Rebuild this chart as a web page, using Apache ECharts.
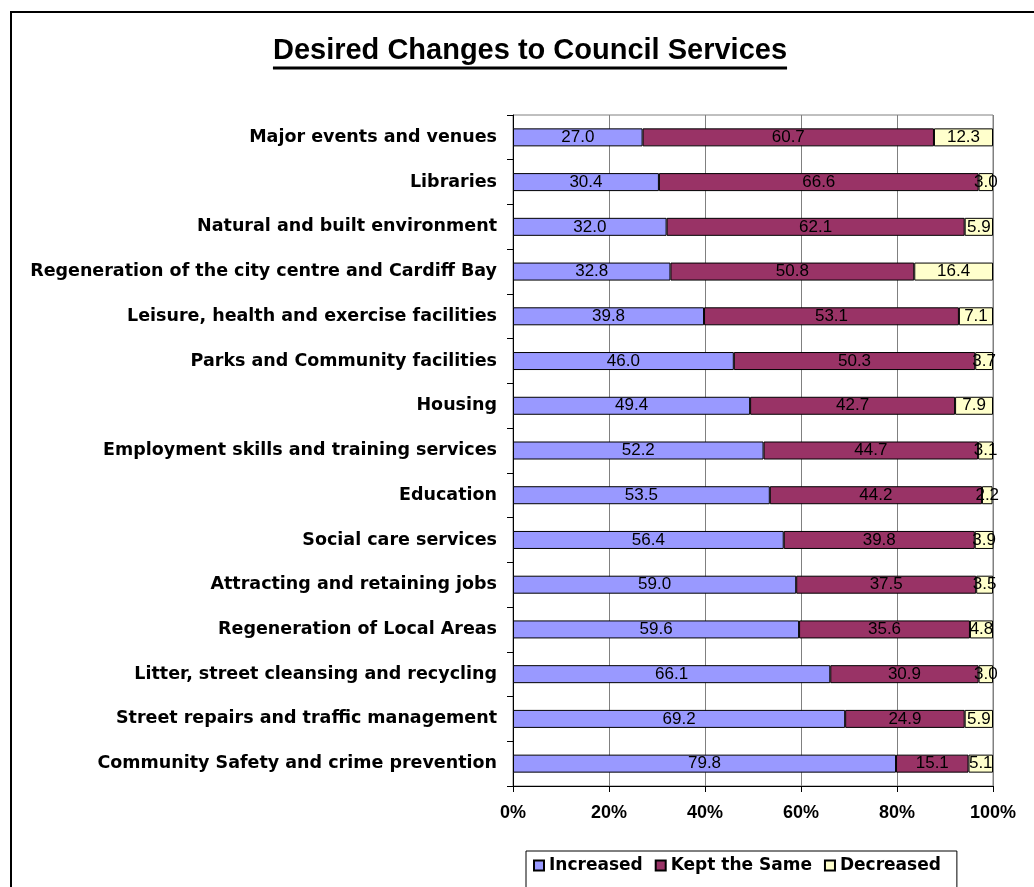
<!DOCTYPE html>
<html>
<head>
<meta charset="utf-8">
<script src="https://cdn.jsdelivr.net/npm/echarts@6/dist/echarts.min.js"></script>
<style>
  html, body { margin: 0; padding: 0; background: #fff; }
  #chart { width: 1034px; height: 887px; }
</style>
</head>
<body>
<div id="chart"></div>
<script>
// Services, listed top to bottom
const categories = [
  'Major events and venues',
  'Libraries',
  'Natural and built environment',
  'Regeneration of the city centre and Cardiff Bay',
  'Leisure, health and exercise facilities',
  'Parks and Community facilities',
  'Housing',
  'Employment skills and training services',
  'Education',
  'Social care services',
  'Attracting and retaining jobs',
  'Regeneration of Local Areas',
  'Litter, street cleansing and recycling',
  'Street repairs and traffic management',
  'Community Safety and crime prevention'
];

// Percentage of respondents per answer
const increased = [27.0, 30.4, 32.0, 32.8, 39.8, 46.0, 49.4, 52.2, 53.5, 56.4, 59.0, 59.6, 66.1, 69.2, 79.8];
const keptSame  = [60.7, 66.6, 62.1, 50.8, 53.1, 50.3, 42.7, 44.7, 44.2, 39.8, 37.5, 35.6, 30.9, 24.9, 15.1];
const decreased = [12.3, 3.0, 5.9, 16.4, 7.1, 3.7, 7.9, 3.1, 2.2, 3.9, 3.5, 4.8, 3.0, 5.9, 5.1];

const seriesNames = ['Increased', 'Kept the Same', 'Decreased'];
const seriesColors = ['#9999FF', '#993366', '#FFFFCC'];
const xTicks = [0, 20, 40, 60, 80, 100];

const SANS = "'Liberation Sans', Arial, sans-serif";
const WIDE = "'DejaVu Sans', Verdana, sans-serif";
const titleText = 'Desired Changes to Council Services';
const titleFont = 'bold 29px ' + SANS;

// width of the title, used for the underline
const measure = document.createElement('canvas').getContext('2d');
measure.font = titleFont;
const titleWidth = measure.measureText(titleText).width;
const titleX = 530;

const chart = echarts.init(document.getElementById('chart'), null, { renderer: 'canvas' });

function barSeries(name, values, color) {
  return {
    name: name,
    type: 'bar',
    stack: 'total',
    barWidth: 18,
    data: values,
    itemStyle: { color: color, borderColor: '#000', borderWidth: 1 },
    label: {
      show: true,
      position: 'inside',
      color: '#000',
      fontFamily: SANS,
      fontSize: 17,
      formatter: p => p.value.toFixed(1)
    },
    emphasis: { disabled: true }
  };
}

chart.setOption({
  animation: false,
  backgroundColor: '#fff',
  graphic: [
    {
      type: 'rect',
      shape: { x: 11, y: 12, width: 1100, height: 1000 },
      style: { fill: 'none', stroke: '#000', lineWidth: 2 },
      silent: true
    },
    {
      type: 'text',
      style: {
        text: titleText,
        x: titleX,
        y: 51,
        align: 'center',
        verticalAlign: 'middle',
        font: titleFont,
        fill: '#000'
      }
    },
    {
      type: 'line',
      shape: { x1: titleX - titleWidth / 2, y1: 68, x2: titleX + titleWidth / 2, y2: 68 },
      style: { stroke: '#000', lineWidth: 3 }
    }
  ],
  grid: {
    left: 513,
    right: 41,
    top: 115,
    bottom: 101,
    show: true,
    borderColor: '#808080',
    borderWidth: 1,
    containLabel: false
  },
  legend: {
    data: seriesNames,
    left: 526,
    top: 851,
    icon: 'rect',
    itemWidth: 10,
    itemHeight: 10,
    itemGap: 12,
    borderColor: '#000',
    borderWidth: 1,
    padding: [6, 16, 30, 7],
    textStyle: { fontFamily: WIDE, fontSize: 17, fontWeight: 'bold', color: '#000' },
    selectedMode: false
  },
  xAxis: {
    type: 'value',
    min: xTicks[0],
    max: xTicks[xTicks.length - 1],
    interval: 20,
    axisLine: { show: true, lineStyle: { color: '#000', width: 1 } },
    axisTick: { show: true, length: 6, lineStyle: { color: '#000' } },
    axisLabel: {
      margin: 18,
      fontFamily: SANS,
      fontSize: 18,
      fontWeight: 'bold',
      color: '#000',
      formatter: '{value}%'
    },
    splitLine: { show: true, lineStyle: { color: '#808080', width: 1 } }
  },
  yAxis: {
    type: 'category',
    inverse: true,
    data: categories,
    axisLine: { show: true, lineStyle: { color: '#000', width: 1 } },
    axisTick: { show: true, length: 6, lineStyle: { color: '#000' } },
    axisLabel: {
      margin: 16,
      fontFamily: WIDE,
      fontSize: 17.5,
      fontWeight: 'bold',
      color: '#000'
    },
    splitLine: { show: false }
  },
  series: [
    barSeries(seriesNames[0], increased, seriesColors[0]),
    barSeries(seriesNames[1], keptSame, seriesColors[1]),
    barSeries(seriesNames[2], decreased, seriesColors[2])
  ]
});
</script>
</body>
</html>
